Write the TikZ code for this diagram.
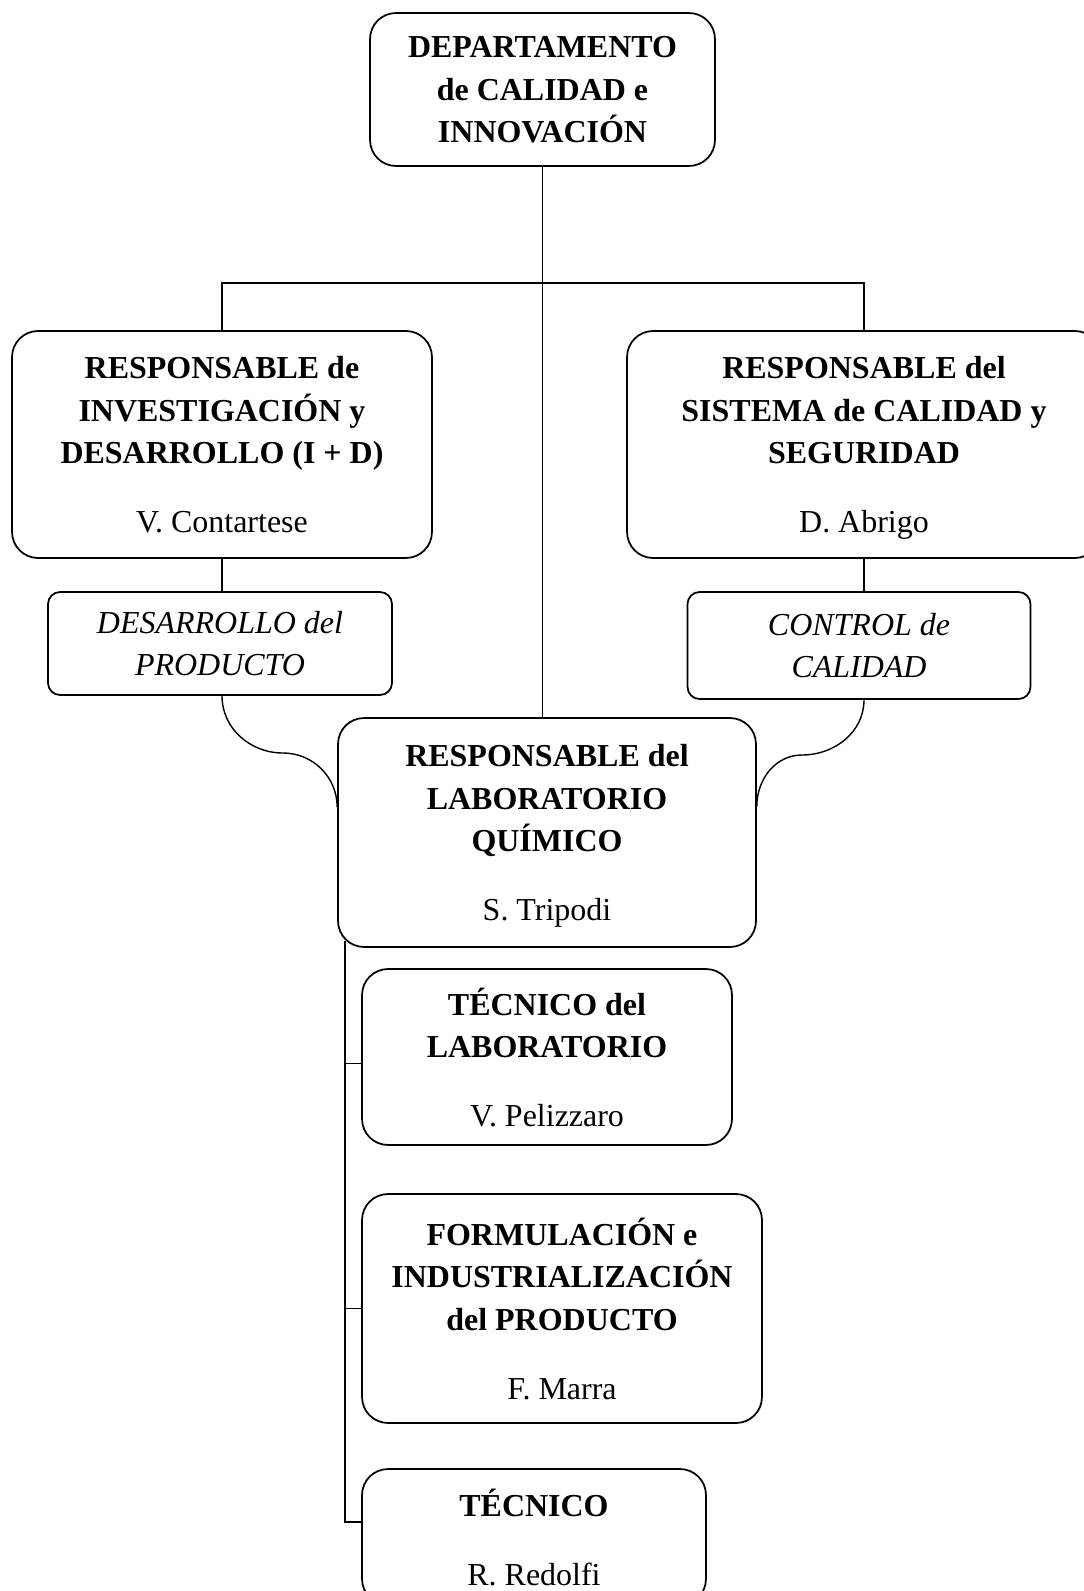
\documentclass[tikz,border=0pt]{standalone}
\usepackage{fontspec}
\setmainfont{Liberation Serif}
\usetikzlibrary{calc}

\begin{document}
\begin{tikzpicture}[
    x=0.02cm, y=-0.02cm,
    box/.style={rectangle, draw, line width=1pt, rounded corners=0.52cm, align=center, inner sep=0pt, text depth=0pt, font=\fontsize{18.2}{24.2}\selectfont},
    smallbox/.style={rectangle, draw, line width=1pt, rounded corners=0.24cm, align=center, inner sep=0pt, font=\fontsize{18.2}{24.2}\selectfont\itshape},
    link/.style={line width=0.8pt}
]
\useasboundingbox (0,0) rectangle (1084,1591);

% Top: department
\node[box, minimum width=6.9cm, minimum height=3.06cm] (dept) at (542.5,89.5) {\textbf{DEPARTAMENTO}\\\textbf{de CALIDAD e}\\\textbf{INNOVACIÓN}};

% Second level: responsables
\node[box, minimum width=8.4cm, minimum height=4.54cm] (invest) at (222,444.5) {\textbf{RESPONSABLE de}\\\textbf{INVESTIGACIÓN y}\\\textbf{DESARROLLO (I + D)}\\[15pt]V. Contartese};
\node[box, minimum width=9.48cm, minimum height=4.54cm] (sistema) at (864,444.5) {\textbf{RESPONSABLE del}\\\textbf{SISTEMA de CALIDAD y}\\\textbf{SEGURIDAD}\\[15pt]D. Abrigo};

% Areas
\node[smallbox, minimum width=6.88cm, minimum height=2.06cm] (desarrollo) at (220,643.5) {DESARROLLO del\\PRODUCTO};
\node[smallbox, minimum width=6.86cm, minimum height=2.14cm] (control) at (859,645.5) {CONTROL de\\CALIDAD};

% Middle: laboratory
\node[box, minimum width=8.36cm, minimum height=4.58cm] (lab) at (547,832.5) {\textbf{RESPONSABLE del}\\\textbf{LABORATORIO}\\\textbf{QUÍMICO}\\[15pt]S. Tripodi};

% Bottom: staff
\node[box, minimum width=7.4cm, minimum height=3.52cm] (tecnicolab) at (547,1057) {\textbf{TÉCNICO del}\\\textbf{LABORATORIO}\\[15pt]V. Pelizzaro};
\node[box, minimum width=8.0cm, minimum height=4.58cm] (formulacion) at (562,1308.5) {\textbf{FORMULACIÓN e}\\\textbf{INDUSTRIALIZACIÓN}\\\textbf{del PRODUCTO}\\[15pt]F. Marra};
\node[box, minimum width=6.88cm, minimum height=2.72cm] (tecnico) at (534,1537) {\textbf{TÉCNICO}\\[15pt]R. Redolfi};

% Helper points
\coordinate (bar) at (542.5,283);
\coordinate (lbend) at (283,753);
\coordinate (rbend) at (802,755);
\coordinate (trunk) at ($(lab.south west)+(8,-7)$);

% Lines
\draw[link] (dept.south) -- (dept.south |- lab.north);
\draw[link] (invest.north) |- (bar) -| (sistema.north);
\draw[link] (invest.south) -- (invest.south |- desarrollo.north);
\draw[link] (sistema.south) -- (sistema.south |- control.north);

\draw[link] (invest.south |- desarrollo.south) to[out=-90, in=180] (lbend) to[out=0, in=90] ($(lab.north west)+(0,90)$);
\draw[link] (sistema.south |- control.south) to[out=-90, in=0] (rbend) to[out=180, in=90] ($(lab.north east)+(0,89)$);

\draw[link] (trunk) |- (tecnicolab.182);
\draw[link] (trunk) |- (formulacion.west);
\draw[link] (trunk) |- (tecnico.175);

\end{tikzpicture}
\end{document}
